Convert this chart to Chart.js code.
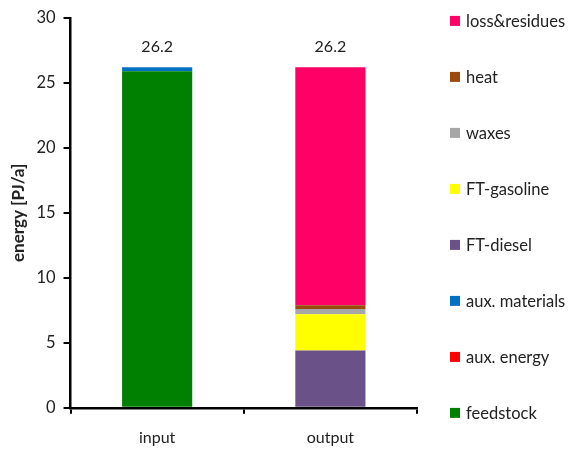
<!DOCTYPE html>
<html>
<head>
<meta charset="utf-8">
<script src="https://cdn.jsdelivr.net/npm/chart.js@4/dist/chart.umd.min.js"></script>
<style>
  html, body { margin: 0; padding: 0; background: #fff; }
  #wrap { width: 576px; height: 450px; }
</style>
</head>
<body>
<div id="wrap"><canvas id="chart"></canvas></div>
<script>
const categories = ['input', 'output']

// values in PJ/a, per stack segment (bottom to top)
const feedstock = [25.9, 0]
const auxEnergy = [0.0, 0]
const auxMaterials = [0.3, 0]
const ftDiesel = [0, 4.4]
const ftGasoline = [0, 2.8]
const waxes = [0, 0.4]
const heat = [0, 0.3]
const lossResidues = [0, 18.3]

const totalLabels = ['26.2', '26.2']
const yTicks = [0, 5, 10, 15, 20, 25, 30]

const font = 'Lato, "Open Sans", sans-serif'

const series = [
  { label: 'feedstock', data: feedstock, color: '#008000' },
  { label: 'aux. energy', data: auxEnergy, color: '#ff0000' },
  { label: 'aux. materials', data: auxMaterials, color: '#0070c0' },
  { label: 'FT-diesel', data: ftDiesel, color: '#6a5289' },
  { label: 'FT-gasoline', data: ftGasoline, color: '#ffff00' },
  { label: 'waxes', data: waxes, color: '#a6a6a6' },
  { label: 'heat', data: heat, color: '#9a4a0c' },
  { label: 'loss&residues', data: lossResidues, color: '#ff0066' }
]

// totals above each stack
const totalsPlugin = {
  id: 'totals',
  afterDatasetsDraw(chart) {
    const { ctx, scales } = chart
    ctx.save()
    ctx.font = '16px ' + font
    ctx.fillStyle = '#222'
    ctx.textAlign = 'center'
    ctx.textBaseline = 'middle'
    categories.forEach((c, i) => {
      const sum = chart.data.datasets.reduce((a, ds) => a + ds.data[i], 0)
      const x = scales.x.getPixelForValue(i)
      const y = scales.y.getPixelForValue(sum)
      ctx.fillText(totalLabels[i], x, y - 20)
    })
    ctx.restore()
  }
}

// legend on the right, top item = top series, spread over the plot height
const sideLegend = {
  id: 'sideLegend',
  afterDraw(chart) {
    const { ctx, chartArea } = chart
    const items = series.slice().reverse()
    const step = 56
    const x0 = chartArea.right + 33
    ctx.save()
    ctx.font = '16.5px ' + font
    ctx.textBaseline = 'middle'
    items.forEach((s, i) => {
      const y = chartArea.top + 3 + i * step
      ctx.fillStyle = s.color
      ctx.fillRect(x0, y - 5, 10, 10)
      ctx.fillStyle = '#222'
      ctx.fillText(s.label, x0 + 16, y + 1)
    })
    ctx.restore()
  }
}

new Chart(document.getElementById('chart'), {
  type: 'bar',
  data: {
    labels: categories,
    datasets: series.map(s => ({
      label: s.label,
      data: s.data,
      backgroundColor: s.color,
      borderWidth: 0,
      categoryPercentage: 1,
      barPercentage: 0.405
    }))
  },
  options: {
    responsive: true,
    maintainAspectRatio: false,
    animation: false,
    layout: { padding: { top: 9, right: 159, left: 8, bottom: -11 } },
    plugins: {
      legend: { display: false },
      tooltip: { enabled: false }
    },
    scales: {
      x: {
        stacked: true,
        border: { color: '#000', width: 2.5 },
        grid: { display: true, drawOnChartArea: false, color: '#000', lineWidth: 2, tickLength: 6, offset: true },
        ticks: { color: '#222', font: { family: font, size: 16 }, padding: 14 }
      },
      y: {
        stacked: true,
        min: 0,
        max: 30,
        afterBuildTicks(axis) {
          axis.ticks = yTicks.map(v => ({ value: v }))
        },
        border: { color: '#000', width: 2.5 },
        grid: { display: true, drawOnChartArea: false, color: '#000', lineWidth: 2, tickLength: 7 },
        ticks: { color: '#222', font: { family: font, size: 16.5 }, padding: 8 },
        title: {
          display: true,
          text: 'energy [PJ/a]',
          color: '#222',
          font: { family: font, size: 17, weight: 'bold' },
          padding: 0
        }
      }
    }
  },
  plugins: [totalsPlugin, sideLegend]
})
</script>
</body>
</html>
